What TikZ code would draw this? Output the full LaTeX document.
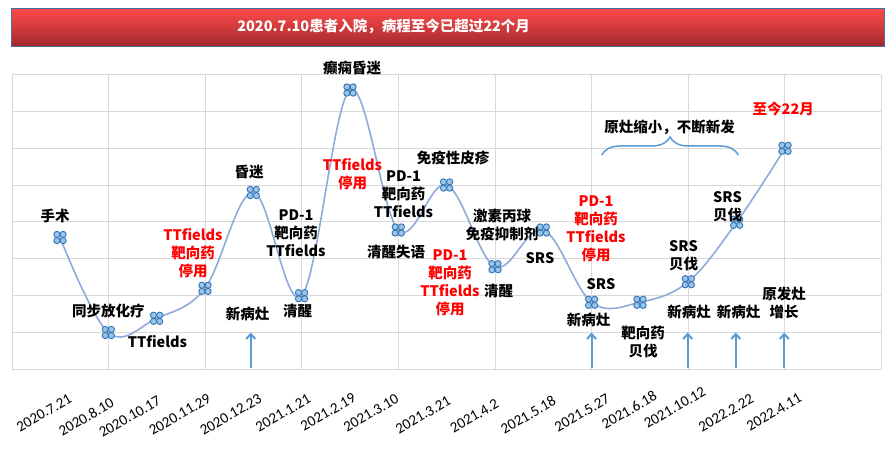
\documentclass[tikz,border=0pt]{standalone}
\usepackage{fontspec}
\newfontfamily\cjk{Noto Sans CJK SC}
\newfontfamily\datefont{Carlito}
\usetikzlibrary{arrows.meta,decorations.pathreplacing}
\definecolor{gridc}{HTML}{D9D9D9}
\definecolor{linec}{HTML}{8FAADC}
\definecolor{mkline}{HTML}{2E75B6}
\definecolor{mkfill}{HTML}{9DC3E6}
\definecolor{arrc}{HTML}{5B9BD5}
\definecolor{redt}{HTML}{FF0000}
\definecolor{bartop}{HTML}{FF4B4B}
\definecolor{barmid}{HTML}{EE4444}
\definecolor{barbot}{HTML}{A3292C}
\definecolor{barborder}{HTML}{41719C}
\begin{document}
\begin{tikzpicture}[x=1pt,y=-1pt,
  lbl/.style={font=\cjk\bfseries\fontsize{14.5}{18}\selectfont, align=center, inner sep=0pt, text=black},
  rlbl/.style={lbl, text=redt},
  datelbl/.style={font=\datefont\fontsize{15}{18}\selectfont, rotate=30, anchor=north east, inner sep=0pt},
  uparrow/.style={arrc, line width=2pt, -{Straight Barb[length=5pt,width=9pt]}},
  gridline/.style={gridc, line width=1pt},
  mk/.pic={\foreach \dx/\dy in {-3.1/-3.1,3.1/-3.1,-3.1/3.1,3.1/3.1}
     \filldraw[fill=mkfill,draw=mkline,line width=0.9pt] (\dx,\dy) circle[radius=3.1pt];}
]
\useasboundingbox (0,0) rectangle (896,462);
\fill[white] (0,0) rectangle (896,462);

% title bar
\node[draw=barborder, line width=1pt, top color=bartop, middle color=barmid, bottom color=barbot,
      minimum width=873pt, minimum height=37.7pt, inner sep=0pt] (bar) at (448,27.2) {};
\node[font=\cjk\bfseries\fontsize{14.5}{18}\selectfont, text=white, inner sep=0pt] (ttext) at (383.6,26)
  {2020.7.10患者入院，病程至今已超过22个月};

% grid
\foreach \k in {0,...,9} \draw[gridline] ({12+96.6*\k},75) -- ({12+96.6*\k},369);
\foreach \k in {0,...,8} \draw[gridline] (12,{75+36.75*\k}) -- (881.4,{75+36.75*\k});

% data points
\coordinate (p1) at (60,237.5);
\coordinate (p2) at (108.3,332.5);
\coordinate (p3) at (156.6,318.3);
\coordinate (p4) at (205,288.3);
\coordinate (p5) at (253.3,192.5);
\coordinate (p6) at (301.6,295.7);
\coordinate (p7) at (350,90);
\coordinate (p8) at (398.3,230);
\coordinate (p9) at (446.6,185);
\coordinate (p10) at (495,266.7);
\coordinate (p11) at (543.3,230);
\coordinate (p12) at (591.6,302.3);
\coordinate (p13) at (640,302.3);
\coordinate (p14) at (688.3,281.7);
\coordinate (p15) at (736.6,222.3);
\coordinate (p16) at (785,148.3);

\draw[linec, line width=1.6pt] plot[smooth, tension=0.6] coordinates
  {(p1) (p2) (p3) (p4) (p5) (p6) (p7) (p8) (p9) (p10) (p11) (p12) (p13) (p14) (p15) (p16)};
\foreach \i in {1,...,16} \pic at (p\i) {mk};

% arrows
\foreach \n/\ax in {1/250.7,2/591.5,3/687.7,4/735.8,5/784.3}{
  \coordinate (as\n) at (\ax,368);
  \coordinate (ae\n) at (\ax,332.5);
  \draw[uparrow] (as\n) -- (ae\n);
}

% brace
\coordinate (brL) at (601.7,155);
\coordinate (brR) at (738.3,155);
\draw[arrc, line width=1.5pt, decorate, decoration={brace, amplitude=18pt, aspect=0.5}] (brL) -- (brR);

% labels
\node[lbl] (l1) at (55,216) {手术};
\node[lbl] (l2) at (108.3,311) {同步放化疗};
\node[lbl] (l3) at (157.5,341.5) {TTfields};
\node[rlbl] (l4) at (193,253) {TTfields\\靶向药\\停用};
\node[lbl] (l5) at (249,172) {昏迷};
\node[lbl] (l6) at (296,233.5) {PD-1\\靶向药\\TTfields};
\node[lbl] (l7) at (297.5,311) {清醒};
\node[lbl] (l8) at (247.7,314) {新病灶};
\node[lbl] (l9) at (352,68.5) {癫痫昏迷};
\node[rlbl] (l10) at (352.5,174) {TTfields\\停用};
\node[lbl] (l11) at (403.5,194.5) {PD-1\\靶向药\\TTfields};
\node[lbl] (l12) at (396,252.5) {清醒失语};
\node[lbl] (l13) at (453,157.5) {免疫性皮疹};
\node[rlbl] (l14) at (450,283) {PD-1\\靶向药\\TTfields\\停用};
\node[lbl] (l15) at (498.5,291) {清醒};
\node[lbl] (l16) at (502,225) {激素丙球\\免疫抑制剂};
\node[lbl] (l17) at (540,258) {SRS};
\node[rlbl] (l18) at (596,229) {PD-1\\靶向药\\TTfields\\停用};
\node[lbl] (l19) at (601,284) {SRS};
\node[lbl] (l20) at (588.7,319.5) {新病灶};
\node[lbl] (l21) at (643,341.7) {靶向药\\贝伐};
\node[lbl] (l22) at (683.5,256) {SRS\\贝伐};
\node[lbl] (l23) at (689,312) {新病灶};
\node[lbl] (l24) at (727.5,207) {SRS\\贝伐};
\node[lbl] (l25) at (738.5,312) {新病灶};
\node[lbl] (l26) at (784,303) {原发灶\\增长};
\node[rlbl] (l27) at (783.3,109) {至今22月};
\node[lbl] (l28) at (669.5,127.5) {原灶缩小，不断新发};

% date labels
\node[datelbl] (d1) at (68,393) {2020.7.21};
\node[datelbl] (d2) at (110,397) {2020.8.10};
\node[datelbl] (d3) at (157,395) {2020.10.17};
\node[datelbl] (d4) at (207,393) {2020.11.29};
\node[datelbl] (d5) at (258,393) {2020.12.23};
\node[datelbl] (d6) at (307,393) {2021.1.21};
\node[datelbl] (d7) at (352,392) {2021.2.19};
\node[datelbl] (d8) at (395,393) {2021.3.10};
\node[datelbl] (d9) at (447,395) {2021.3.21};
\node[datelbl] (d10) at (495,398) {2021.4.2};
\node[datelbl] (d11) at (552,395) {2021.5.18};
\node[datelbl] (d12) at (606,393) {2021.5.27};
\node[datelbl] (d13) at (653,390) {2021.6.18};
\node[datelbl] (d14) at (702,386) {2021.10.12};
\node[datelbl] (d15) at (750,393) {2022.2.22};
\node[datelbl] (d16) at (798,392) {2022.4.11};
\end{tikzpicture}
\end{document}
